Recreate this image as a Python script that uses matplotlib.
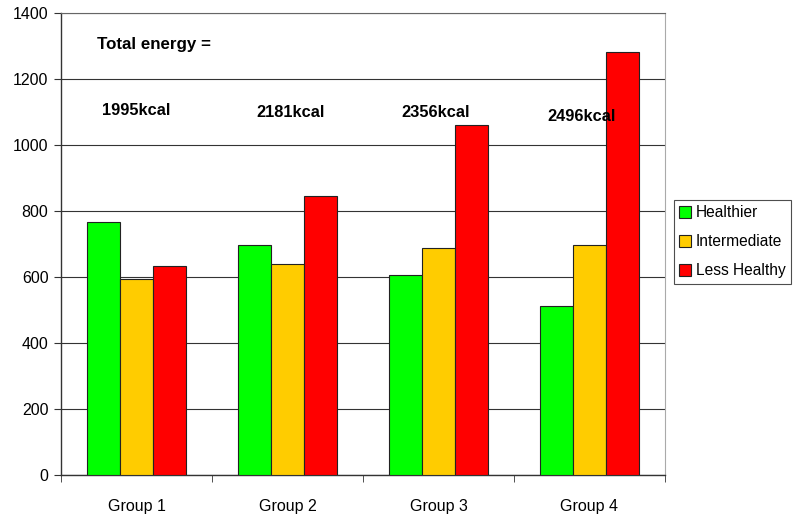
import matplotlib
matplotlib.use("Agg")
import matplotlib.pyplot as plt
import numpy as np

plt.rcParams['font.family'] = ['Liberation Sans', 'DejaVu Sans']

groups = ["Group 1", "Group 2", "Group 3", "Group 4"]
series_names = ["Healthier", "Intermediate", "Less Healthy"]
healthier = [768, 697, 605, 513]
intermediate = [594, 639, 687, 698]
less_healthy = [632, 844, 1060, 1283]
energy_labels = ["1995kcal", "2181kcal", "2356kcal", "2496kcal"]
colors = ["#00FF00", "#FFCC00", "#FF0000"]
yticks = [0, 200, 400, 600, 800, 1000, 1200, 1400]

fig = plt.figure(figsize=(7.99, 5.2), dpi=100)
ax = fig.add_axes([61/799, 45/520, 604/799, 462/520])

x = np.arange(len(groups))
w = 0.219
for i, (vals, c, name) in enumerate(zip([healthier, intermediate, less_healthy], colors, series_names)):
    ax.bar(x + (i - 1) * w, vals, width=w, color=c, edgecolor="#222222", linewidth=0.8,
           label=name, zorder=3)

ax.set_xlim(-0.5, 3.5)
ax.set_ylim(0, 1400)
ax.set_yticks(yticks)
ax.set_yticklabels([str(v) for v in yticks], fontsize=11.5)
ax.yaxis.grid(True, color="#333333", linewidth=0.8, zorder=0)
ax.set_xticks(x)
ax.set_xticklabels(groups, fontsize=11.5)
ax.set_xticks(np.arange(-0.5, 4.0, 1.0), minor=True)
ax.tick_params(axis="x", which="major", length=0, pad=17)
ax.tick_params(axis="x", which="minor", length=5, direction="out", color="#333333")
ax.tick_params(axis="y", length=5, direction="out", color="#333333", pad=4)

for s in ["left", "bottom"]:
    ax.spines[s].set_color("#333333")
    ax.spines[s].set_linewidth(1.0)
ax.spines["top"].set_color("#666666")
ax.spines["right"].set_color("#AAAAAA")

ax.text(0.114, 1304, "Total energy =", fontsize=12.2, fontweight="bold", ha="center", va="center")
label_y = [1104, 1098, 1098, 1085]
label_dx = [0.0, 0.02, -0.02, -0.05]
for i, (lab, ly, dx) in enumerate(zip(energy_labels, label_y, label_dx)):
    ax.text(i + dx, ly, lab, fontsize=11.8, fontweight="bold", ha="center", va="center", zorder=5)

leg = fig.legend(loc="upper left", bbox_to_anchor=(674/799, 1 - 200/520), fontsize=11.2,
                 frameon=True, fancybox=False, edgecolor="#222222", handlelength=0.75,
                 handleheight=0.75, handletextpad=0.3, borderpad=0.35, labelspacing=0.9,
                 borderaxespad=0)
leg.get_frame().set_linewidth(0.8)

fig.savefig("out.png", dpi=100)
